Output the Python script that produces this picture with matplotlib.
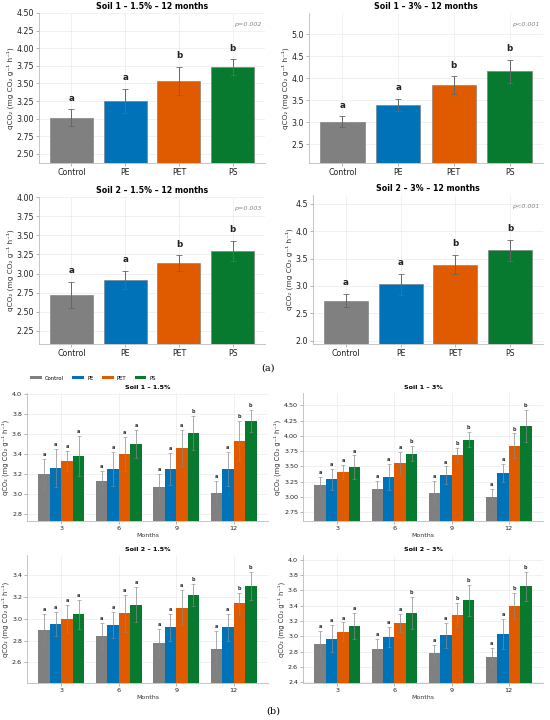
import numpy as np
import matplotlib
matplotlib.use("Agg")
import matplotlib.pyplot as plt

# ---- data ----
treatments = ["Control", "PE", "PET", "PS"]
colors = ["#808080", "#0072B8", "#E05A00", "#087A30"]
months = ["3", "6", "9", "12"]

# panel (a): 12 months
s1_15_mean = [3.01, 3.25, 3.53, 3.73]
s1_15_err = [0.12, 0.17, 0.20, 0.11]
s1_15_let = ["a", "a", "b", "b"]
s1_3_mean = [3.01, 3.39, 3.84, 4.16]
s1_3_err = [0.12, 0.14, 0.20, 0.26]
s1_3_let = ["a", "a", "b", "b"]
s2_15_mean = [2.72, 2.92, 3.14, 3.30]
s2_15_err = [0.17, 0.12, 0.10, 0.13]
s2_15_let = ["a", "a", "b", "b"]
s2_3_mean = [2.73, 3.03, 3.39, 3.65]
s2_3_err = [0.12, 0.19, 0.18, 0.19]
s2_3_let = ["a", "a", "b", "b"]

# panel (b): time series, rows = treatment, cols = month
t_s1_15_mean = [[3.20, 3.13, 3.07, 3.01], [3.26, 3.25, 3.25, 3.25],
                [3.33, 3.40, 3.46, 3.53], [3.38, 3.50, 3.61, 3.73]]
t_s1_15_err = [[0.15, 0.10, 0.13, 0.12], [0.19, 0.17, 0.16, 0.17],
               [0.10, 0.17, 0.18, 0.20], [0.20, 0.14, 0.17, 0.11]]
t_s1_15_let = [["a", "a", "a", "a"], ["a", "a", "a", "a"],
               ["a", "a", "a", "b"], ["a", "a", "b", "b"]]
t_s1_3_mean = [[3.20, 3.13, 3.07, 3.01], [3.29, 3.33, 3.36, 3.39],
               [3.41, 3.55, 3.69, 3.84], [3.49, 3.71, 3.94, 4.16]]
t_s1_3_err = [[0.13, 0.14, 0.19, 0.12], [0.17, 0.21, 0.14, 0.15],
              [0.11, 0.19, 0.12, 0.20], [0.19, 0.12, 0.12, 0.26]]
t_s1_3_let = [["a", "a", "a", "a"], ["a", "a", "a", "a"],
              ["a", "a", "b", "b"], ["a", "b", "b", "b"]]
t_s2_15_mean = [[2.90, 2.84, 2.78, 2.72], [2.95, 2.94, 2.92, 2.92],
                [3.00, 3.05, 3.10, 3.14], [3.04, 3.13, 3.22, 3.30]]
t_s2_15_err = [[0.14, 0.12, 0.13, 0.17], [0.11, 0.12, 0.12, 0.12],
               [0.13, 0.17, 0.16, 0.10], [0.13, 0.16, 0.10, 0.13]]
t_s2_15_let = [["a", "a", "a", "a"], ["a", "a", "a", "a"],
               ["a", "a", "a", "b"], ["a", "a", "b", "b"]]
t_s2_3_mean = [[2.90, 2.84, 2.78, 2.73], [2.97, 2.99, 3.01, 3.03],
               [3.06, 3.17, 3.28, 3.39], [3.13, 3.30, 3.47, 3.65]]
t_s2_3_err = [[0.17, 0.13, 0.11, 0.12], [0.18, 0.13, 0.16, 0.19],
              [0.12, 0.12, 0.15, 0.17], [0.17, 0.21, 0.20, 0.19]]
t_s2_3_let = [["a", "a", "a", "a"], ["a", "a", "a", "a"],
              ["a", "a", "b", "b"], ["a", "b", "b", "b"]]

ylabel = "qCO\u2082 (mg CO\u2082 g\u207b\u00b9 h\u207b\u00b9)"
W, H = 550, 720


def place(x0, y0, x1, y1):
    # pixel box (top-left origin) -> figure axes
    return fig.add_axes([x0 / W, 1 - y1 / H, (x1 - x0) / W, (y1 - y0) / H])


def style(ax, fs):
    ax.set_facecolor("white")
    ax.grid(True, color="#ececec", linewidth=0.5)
    ax.set_axisbelow(True)
    for s in ["top", "right"]:
        ax.spines[s].set_visible(False)
    for s in ["left", "bottom"]:
        ax.spines[s].set_color("#bbbbbb")
        ax.spines[s].set_linewidth(0.6)
    ax.tick_params(labelsize=fs, colors="#222222", length=2, width=0.5,
                   color="#999999", pad=1.5)


def panel_a(ax, mean, err, let, title, ylim, ticks, ptxt):
    style(ax, 5.7)
    x = np.arange(len(treatments))
    ax.bar(x, mean, width=0.8, color=colors, edgecolor="#777777", linewidth=0.4,
           yerr=err, error_kw=dict(ecolor="#666666", elinewidth=0.7, capsize=2.2,
                                   capthick=0.6))
    off = (ylim[1] - ylim[0]) * 0.045
    for i in range(len(x)):
        ax.text(x[i], mean[i] + err[i] + off, let[i], ha="center", va="bottom",
                fontsize=6.3, fontweight="bold", color="#222222")
    ax.set_xticks(x)
    ax.set_xticklabels(treatments)
    ax.set_xlim(-0.6, 3.6)
    ax.set_ylim(*ylim)
    ax.set_yticks(ticks)
    ax.set_ylabel(ylabel, fontsize=5.3, labelpad=2, color="#333333")
    ax.set_title(title, fontsize=5.7, fontweight="bold", pad=3)
    ax.text(0.985, 0.94, ptxt, transform=ax.transAxes, ha="right", va="top",
            fontsize=4.6, style="italic", color="#888888")


def panel_b(ax, mean, err, let, title, ylim, ticks, tfmt):
    style(ax, 4.6)
    x = np.arange(len(months))
    w = 0.2
    for k in range(len(treatments)):
        xs = x + (k - 1.5) * w
        ax.bar(xs, mean[k], width=w, color=colors[k], edgecolor="none",
               yerr=err[k], error_kw=dict(ecolor="#888888", elinewidth=0.5,
                                          capsize=1.2, capthick=0.4),
               label=treatments[k])
        off = (ylim[1] - ylim[0]) * 0.015
        for j in range(len(x)):
            ax.text(xs[j], mean[k][j] + err[k][j] + off, let[k][j], ha="center",
                    va="bottom", fontsize=3.6, fontweight="bold", color="#333333")
    ax.set_xticks(x)
    ax.set_xticklabels(months)
    ax.set_xlim(-0.6, 3.6)
    ax.set_ylim(*ylim)
    ax.set_yticks(ticks)
    ax.set_yticklabels([tfmt.format(t) for t in ticks])
    ax.set_xlabel("Months", fontsize=4.5, labelpad=1.5, color="#333333")
    ax.set_ylabel(ylabel, fontsize=4.9, labelpad=2, color="#333333")
    ax.set_title(title, fontsize=4.6, fontweight="bold", pad=3)


fig = plt.figure(figsize=(5.5, 7.2), dpi=100)
fig.patch.set_facecolor("white")

# ---- (a) ----
ax = place(39, 13, 265, 163)
panel_a(ax, s1_15_mean, s1_15_err, s1_15_let, "Soil 1 \u2013 1.5% \u2013 12 months",
        (2.37, 4.5), np.arange(2.5, 4.51, 0.25), "p=0.002")
ax = place(309, 13, 543, 163)
panel_a(ax, s1_3_mean, s1_3_err, s1_3_let, "Soil 1 \u2013 3% \u2013 12 months",
        (2.07, 5.48), np.arange(2.5, 5.01, 0.5), "p<0.001")
ax = place(39, 197, 265, 344)
panel_a(ax, s2_15_mean, s2_15_err, s2_15_let, "Soil 2 \u2013 1.5% \u2013 12 months",
        (2.08, 4.0), np.arange(2.25, 4.01, 0.25), "p=0.003")
ax = place(313, 195, 543, 344)
panel_a(ax, s2_3_mean, s2_3_err, s2_3_let, "Soil 2 \u2013 3% \u2013 12 months",
        (1.94, 4.66), np.arange(2.0, 4.51, 0.5), "p<0.001")

fig.text(268 / W, 1 - 368 / H, "(a)", ha="center", va="center", fontsize=7,
         family="DejaVu Serif")

# ---- (b) ----
ax1 = place(27, 393, 268, 521)
panel_b(ax1, t_s1_15_mean, t_s1_15_err, t_s1_15_let, "Soil 1 \u2013 1.5%",
        (2.73, 4.01), np.arange(2.8, 4.01, 0.2), "{:.1f}")
ax = place(303, 393, 543, 521)
panel_b(ax, t_s1_3_mean, t_s1_3_err, t_s1_3_let, "Soil 1 \u2013 3%",
        (2.61, 4.70), np.arange(2.75, 4.51, 0.25), "{:.2f}")
ax = place(27, 555, 268, 683)
panel_b(ax, t_s2_15_mean, t_s2_15_err, t_s2_15_let, "Soil 2 \u2013 1.5%",
        (2.41, 3.585), np.arange(2.6, 3.41, 0.2), "{:.1f}")
ax = place(303, 555, 543, 683)
panel_b(ax, t_s2_3_mean, t_s2_3_err, t_s2_3_let, "Soil 2 \u2013 3%",
        (2.39, 4.06), np.arange(2.4, 4.01, 0.2), "{:.1f}")

handles, labels = ax1.get_legend_handles_labels()
fig.legend(handles, labels, loc="center left", bbox_to_anchor=(28 / W, 1 - 378 / H),
           ncol=4, fontsize=3.8, frameon=False, handlelength=2.2, handleheight=0.6,
           columnspacing=1.6, handletextpad=0.6, borderaxespad=0)

fig.text(273 / W, 1 - 711 / H, "(b)", ha="center", va="center", fontsize=7,
         family="DejaVu Serif")

fig.savefig("out.png", dpi=100, facecolor="white")
